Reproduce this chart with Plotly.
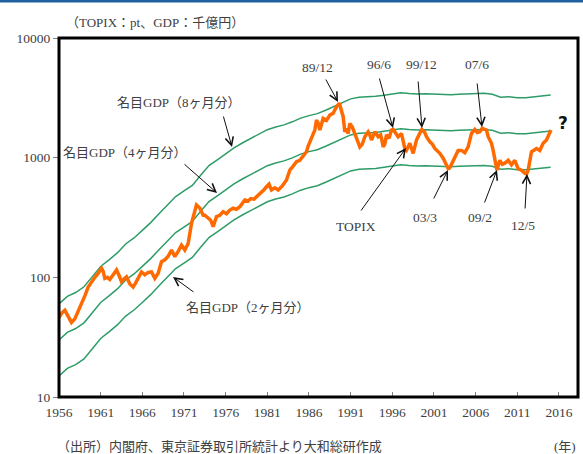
import plotly.graph_objects as go

# ---------------- data ----------------
gdp_years = list(range(1956, 2016))
# nominal GDP (千億円, annual)
gdp_values = [90, 104, 112, 125, 152, 185, 210, 240, 285, 320,
              370, 430, 510, 600, 710, 790, 880, 1070, 1290, 1440,
              1620, 1810, 1990, 2170, 2380, 2570, 2710, 2820, 2990, 3210,
              3370, 3500, 3740, 4040, 4360, 4650, 4790, 4830, 4880, 4990,
              5090, 5230, 5150, 5100, 5130, 5080, 5020, 5030, 5080, 5100,
              5120, 5170, 5080, 4800, 4850, 4750, 4760, 4820, 4900, 5000]
gdp_months = [8, 4, 2]

topix_x = [1956.0, 1956.3, 1956.7, 1957.0, 1957.3, 1957.5, 1957.9, 1958.2, 1958.5, 1958.8,
           1959.1, 1959.5, 1959.9, 1960.3, 1960.7, 1961.1, 1961.3, 1961.5, 1961.8, 1962.1,
           1962.5, 1962.9, 1963.2, 1963.5, 1963.8, 1964.1, 1964.5, 1964.9, 1965.2, 1965.5,
           1965.9, 1966.3, 1966.7, 1967.1, 1967.5, 1967.9, 1968.3, 1968.7, 1969.1, 1969.5,
           1969.9, 1970.3, 1970.7, 1971.1, 1971.5, 1971.9, 1972.2, 1972.5, 1972.9, 1973.3,
           1973.5, 1973.9, 1974.2, 1974.5, 1974.9, 1975.3, 1975.7, 1976.1, 1976.5, 1976.9,
           1977.3, 1977.7, 1978.0, 1978.3, 1978.7, 1979.0, 1979.4, 1979.7, 1980.2, 1980.6,
           1980.9, 1981.2, 1981.5, 1981.9, 1982.3, 1982.8, 1983.3, 1983.7, 1984.1, 1984.5,
           1984.9, 1985.3, 1985.7, 1985.9, 1986.2, 1986.5, 1986.7, 1986.9, 1987.1, 1987.3,
           1987.5, 1987.7, 1988.1, 1988.5, 1988.9, 1989.3, 1989.64, 1989.9, 1990.1, 1990.3,
           1990.5, 1990.7, 1990.9, 1991.2, 1991.5, 1991.8, 1992.1, 1992.4, 1992.7, 1993.1,
           1993.3, 1993.5, 1993.9, 1994.3, 1994.6, 1994.75, 1994.9, 1995.1, 1995.3, 1995.6,
           1995.9, 1996.1, 1996.4, 1996.7, 1997.1, 1997.3, 1997.5, 1997.7, 1998.1, 1998.5,
           1998.9, 1999.2, 1999.55, 1999.9, 2000.1, 2000.5, 2000.8, 2001.1, 2001.4, 2001.7,
           2002.1, 2002.5, 2002.75, 2003.0, 2003.3, 2003.5, 2003.9, 2004.3, 2004.7, 2005.1,
           2005.5, 2005.9, 2006.2, 2006.5, 2006.8, 2007.1, 2007.3, 2007.5, 2007.9, 2008.1,
           2008.3, 2008.55, 2008.9, 2009.2, 2009.5, 2009.9, 2010.3, 2010.7, 2011.1, 2011.5,
           2011.9, 2012.1, 2012.3, 2012.7, 2013.3, 2013.7, 2014.1, 2014.5, 2015.04]
topix_values = [46, 50, 53, 48, 44, 42, 45, 50, 57, 62,
                70, 83, 92, 100, 108, 119, 112, 98, 100, 96,
                105, 115, 104, 92, 97, 101, 88, 83, 90, 100,
                111, 105, 110, 111, 98, 108, 135, 140, 150, 169,
                149, 165, 186, 169, 192, 282, 340, 402, 380, 330,
                330, 310, 300, 265, 322, 330, 354, 340, 365, 378,
                370, 389, 410, 443, 435, 455, 450, 471, 500, 540,
                571, 600, 537, 560, 537, 580, 650, 787, 850, 925,
                950, 1047, 1120, 1250, 1403, 1596, 1700, 2060, 1950, 1700,
                1900, 2128, 2050, 2268, 2350, 2663, 2850, 2500, 2200, 1644,
                1750, 1590, 1930, 1800, 1590, 1450, 1230, 1300, 1496, 1644,
                1550, 1403, 1644, 1496, 1550, 1400, 1230, 1300, 1550, 1450,
                1700, 1720, 1600, 1496, 1590, 1400, 1194, 1150, 1320, 1087,
                1403, 1550, 1720, 1620, 1496, 1358, 1300, 1194, 1150, 1087,
                990, 870, 800, 850, 950, 990, 1150, 1150, 1100, 1230,
                1600, 1720, 1620, 1644, 1760, 1720, 1700, 1496, 1320, 1150,
                925, 787, 950, 880, 900, 950, 870, 950, 810, 787,
                740, 730, 787, 1120, 1194, 1150, 1320, 1403, 1700]

x_tick_years = list(range(1956, 2017, 5))
y_tick_vals = [10, 100, 1000, 10000]

# ---------------- geometry helpers (pixel -> paper) ----------------
W, H = 583, 454
L, R, T, B = 59, 578, 38, 397


def px(x):
    return (x - L) / (R - L)


def py(y):
    return (B - y) / (B - T)


GREEN = "#2E9C68"
ORANGE = "#FF6A00"
TXT = "#404040"
FONT = "Liberation Serif, Noto Sans CJK JP, serif"

fig = go.Figure()

for m in gdp_months:
    fig.add_trace(go.Scatter(
        x=gdp_years, y=[v * m / 12 for v in gdp_values], mode="lines",
        line=dict(color=GREEN, width=1.5), name=f"名目GDP（{m}ヶ月分）",
        hoverinfo="skip"))

fig.add_trace(go.Scatter(
    x=topix_x, y=topix_values, mode="lines",
    line=dict(color=ORANGE, width=3.5), name="TOPIX"))

annotations = []

# text labels (pixel centre positions)
labels = [
    ("名目GDP（8ヶ月分）", 179, 102, 13),
    ("名目GDP（4ヶ月分）", 125, 152, 13),
    ("名目GDP（2ヶ月分）", 248, 307, 13),
    ("89/12", 317, 67, 13.5),
    ("96/6", 379, 64, 13.5),
    ("99/12", 421, 65, 13.5),
    ("07/6", 477, 65, 13.5),
    ("TOPIX", 356, 226, 13.5),
    ("03/3", 425, 217, 13.5),
    ("09/2", 480, 217, 13.5),
    ("12/5", 523, 225, 13.5),
]
for text, x, y, s in labels:
    annotations.append(dict(text=text, x=px(x), y=py(y), xref="paper", yref="paper",
                            showarrow=False, xanchor="center", yanchor="middle",
                            font=dict(family=FONT, size=s, color=TXT)))

annotations.append(dict(text="<b>?</b>", x=px(563), y=py(123), xref="paper", yref="paper",
                        showarrow=False, xanchor="center", yanchor="middle",
                        font=dict(family="DejaVu Sans, sans-serif", size=17, color="#111111")))

# arrows: (tip, tail) in pixels
arrows = [
    ((232, 147), (223, 115)),
    ((217, 193), (183, 163)),
    ((173, 277), (195, 293)),
    ((338, 102), (325, 78)),
    ((393, 128), (379, 77)),
    ((422, 128), (418, 80)),
    ((482, 127), (477, 82)),
    ((406, 148), (360, 212)),
    ((448, 170), (433, 200)),
    ((497, 170), (484, 204)),
    ((527, 174), (525, 210)),
]
for (tx, ty), (sx, sy) in arrows:
    annotations.append(dict(text="", x=px(tx), y=py(ty), xref="paper", yref="paper",
                            ax=sx - tx, ay=sy - ty, showarrow=True, arrowhead=5,
                            arrowsize=1.6, arrowwidth=1, arrowcolor="#111111",
                            standoff=0, startstandoff=0))

# outside texts
annotations.append(dict(text="（TOPIX：pt、GDP：千億円）", x=px(64), y=py(22), xref="paper",
                        yref="paper", showarrow=False, xanchor="left", yanchor="middle",
                        font=dict(family=FONT, size=13, color=TXT)))
annotations.append(dict(text="（出所）内閣府、東京証券取引所統計より大和総研作成", x=px(55), y=py(446),
                        xref="paper", yref="paper", showarrow=False, xanchor="left",
                        yanchor="middle", font=dict(family=FONT, size=13, color=TXT)))
annotations.append(dict(text="(年)", x=px(578), y=py(446), xref="paper", yref="paper",
                        showarrow=False, xanchor="right", yanchor="middle",
                        font=dict(family=FONT, size=13, color=TXT)))

shapes = [
    dict(type="rect", xref="paper", yref="paper", x0=0, x1=1, y0=0, y1=1,
         line=dict(color="#000000", width=3), layer="above"),
    dict(type="rect", xref="paper", yref="paper", x0=px(0), x1=px(W), y0=py(0), y1=py(2.5),
         line=dict(width=0), fillcolor="#2060A0", layer="above"),
]

fig.update_layout(
    width=W, height=H,
    margin=dict(l=L, r=W - R, t=T, b=H - B, pad=0),
    paper_bgcolor="white", plot_bgcolor="white",
    showlegend=False,
    font=dict(family=FONT, size=13, color=TXT),
    annotations=annotations,
    shapes=shapes,
)

fig.update_xaxes(
    range=[1956, 1956 + (R - L) / 8.333], tickmode="array",
    tickvals=x_tick_years, ticktext=[str(y) for y in x_tick_years],
    ticks="inside", ticklen=5, tickcolor="#808080", tickwidth=1,
    ticklabelstandoff=5,
    showgrid=False, zeroline=False, showline=False,
    tickfont=dict(family=FONT, size=13.5, color=TXT))

fig.update_yaxes(
    type="log", range=[1, 4], tickmode="array", tickvals=y_tick_vals,
    ticktext=[str(v) for v in y_tick_vals],
    ticks="outside", ticklen=5, tickcolor="#808080", tickwidth=1,
    showgrid=False, zeroline=False, showline=False,
    tickfont=dict(family=FONT, size=13.5, color=TXT))

fig.write_html("out.html", config={"displayModeBar": False},
               post_script="document.body.style.margin='0';document.body.style.overflow='hidden';")
